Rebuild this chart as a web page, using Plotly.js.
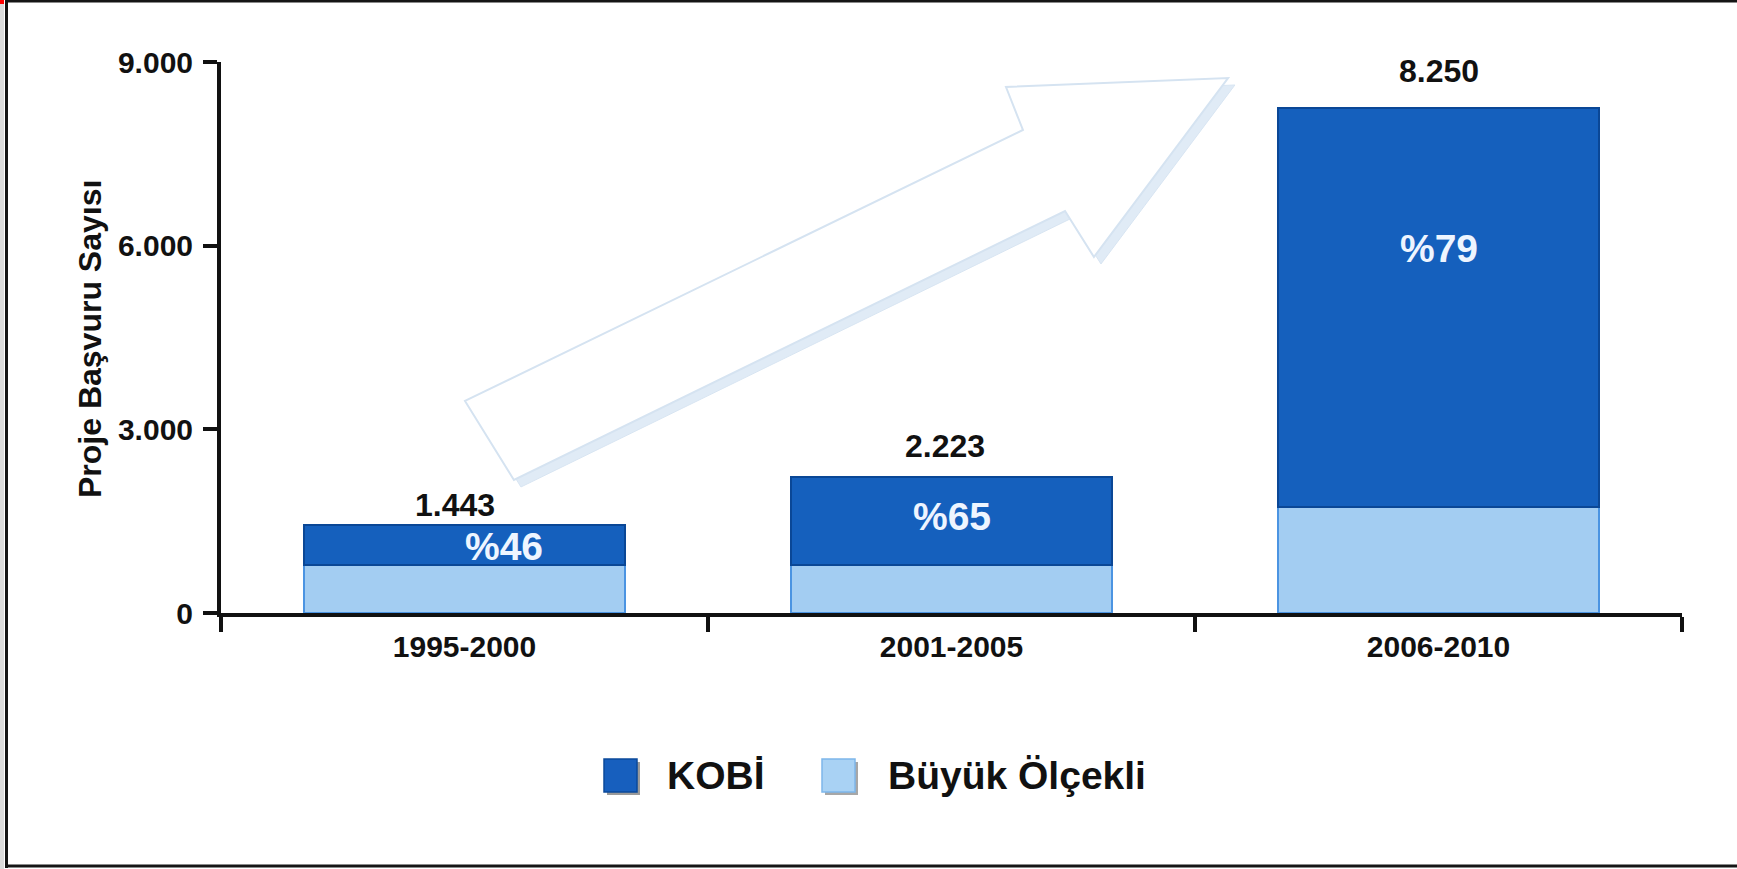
<!DOCTYPE html>
<html>
<head>
<meta charset="utf-8">
<script src="https://cdn.plot.ly/plotly-3.0.1.min.js"></script>
<style>
  html, body { margin: 0; padding: 0; background: #ffffff; }
  #chart { width: 1737px; height: 869px; }
</style>
</head>
<body>
<div id="chart"></div>
<script>
// ---- data ----
const categories = ['1995-2000', '2001-2005', '2006-2010'];
const totals = [1443, 2223, 8250];
const kobiShare = [46, 65, 79];
const kobi = [664, 1445, 6518];
const buyuk = [779, 778, 1732];
const seriesNames = ['KOBİ', 'Büyük Ölçekli'];
const yTickVals = [0, 3000, 6000, 9000];
const yTickText = ['0', '3.000', '6.000', '9.000'];
const yTitle = 'Proje Başvuru Sayısı';

// ---- layout geometry (pixels of the 1737x869 canvas) ----
const W = 1737, H = 869;
const M = { l: 221, r: 55, t: 62, b: 256 };
const PW = W - M.l - M.r, PH = H - M.t - M.b;
const px = x => (x - M.l) / PW;          // pixel x -> paper x
const py = y => (H - M.b - y) / PH;      // pixel y -> paper y

const FONT = '"Liberation Sans", Arial, Helvetica, sans-serif';
const KOBI_COLOR = '#1560bd';
const BUYUK_COLOR = '#a3cdf2';

const traces = [
  {
    type: 'bar', name: seriesNames[1], x: categories, y: buyuk,
    marker: { color: BUYUK_COLOR, line: { color: '#4b94e2', width: 2 } },
    hoverinfo: 'skip', showlegend: false
  },
  {
    type: 'bar', name: seriesNames[0], x: categories, y: kobi,
    marker: { color: KOBI_COLOR, line: { color: '#0a4796', width: 2 } },
    hoverinfo: 'skip', showlegend: false
  }
];

// label offsets (styling only)
const totalShift = [{ x: -10, y: 0 }, { x: -7, y: 11 }, { x: 0, y: 17 }];
const pctShift = [{ x: 39, y: -2 }, { x: 0, y: 5 }, { x: 0, y: 59 }];

const annotations = [];
categories.forEach((c, i) => {
  annotations.push({
    x: c, y: totals[i], xref: 'x', yref: 'y',
    text: totals[i].toLocaleString('de-DE'),
    showarrow: false, yanchor: 'bottom', xanchor: 'center',
    xshift: totalShift[i].x, yshift: totalShift[i].y,
    font: { family: FONT, size: 32, color: '#111111', weight: 'bold' }
  });
  annotations.push({
    x: c, y: buyuk[i] + kobi[i] / 2, xref: 'x', yref: 'y',
    text: '%' + kobiShare[i],
    showarrow: false, yanchor: 'middle', xanchor: 'center',
    xshift: pctShift[i].x, yshift: pctShift[i].y,
    font: { family: FONT, size: 39, color: '#eef5ff', weight: 'bold' }
  });
});

// y axis title
annotations.push({
  x: px(90), y: py(339), xref: 'paper', yref: 'paper',
  text: yTitle, textangle: -90, showarrow: false,
  xanchor: 'center', yanchor: 'middle',
  font: { family: FONT, size: 32, color: '#111111', weight: 'bold' }
});

// custom legend text
annotations.push({
  x: px(665), y: py(776), xref: 'paper', yref: 'paper',
  text: seriesNames[0], showarrow: false, xanchor: 'left', yanchor: 'middle',
  font: { family: FONT, size: 39, color: '#111111', weight: 'bold' }
});
annotations.push({
  x: px(886), y: py(776), xref: 'paper', yref: 'paper',
  text: seriesNames[1], showarrow: false, xanchor: 'left', yanchor: 'middle',
  font: { family: FONT, size: 39, color: '#111111', weight: 'bold' }
});

// decorative arrow (pixel outline -> paper)
const arrowPx = [[465, 401], [1023, 130], [1006, 87], [1228, 78], [1094, 257], [1065, 211], [514, 480]];
function pathFrom(pts, dx, dy) {
  return pts.map((p, k) => (k ? 'L' : 'M') + px(p[0] + dx).toFixed(4) + ',' + py(p[1] + dy).toFixed(4)).join(' ') + ' Z';
}
function rectPx(x0, y0, x1, y1, fill, line, lw, layer) {
  return {
    type: 'rect', xref: 'paper', yref: 'paper',
    x0: px(x0), x1: px(x1), y0: py(y1), y1: py(y0),
    fillcolor: fill, line: { color: line || 'rgba(0,0,0,0)', width: lw || 0 },
    layer: layer || 'above'
  };
}
function linePx(x0, y0, x1, y1, color, w) {
  return {
    type: 'line', xref: 'paper', yref: 'paper',
    x0: px(x0), x1: px(x1), y0: py(y0), y1: py(y1),
    line: { color: color, width: w }, layer: 'above'
  };
}

const shapes = [
  { type: 'path', xref: 'paper', yref: 'paper', path: pathFrom(arrowPx, 7, 7),
    fillcolor: '#e0ebf6', line: { color: '#d8e5f2', width: 1 }, layer: 'below' },
  { type: 'path', xref: 'paper', yref: 'paper', path: pathFrom(arrowPx, 0, 0),
    fillcolor: '#ffffff', line: { color: '#d5e3f1', width: 2 }, layer: 'below' },
  // legend icons
  rectPx(607, 762, 640, 795, '#9a9a9a'),
  rectPx(604, 759, 637, 792, '#175fbe', '#0b4a9a', 1.5),
  rectPx(825, 762, 858, 795, '#a7a7a7'),
  rectPx(822, 759, 855, 792, '#a9d2f4', '#7db7ea', 1.5),
  // frame
  rectPx(0, 0, 4, 869, '#dcdcdc'),
  rectPx(0, 0, 4, 4, '#ff0000'),
  linePx(6, 1, 1737, 1, '#151515', 3),
  linePx(6, 866, 1737, 866, '#151515', 3),
  linePx(6.5, 0, 6.5, 868, '#151515', 3)
];

const layout = {
  width: W, height: H,
  margin: M,
  paper_bgcolor: '#ffffff', plot_bgcolor: '#ffffff',
  separators: ',.',
  barmode: 'stack',
  bargap: 0.34,
  showlegend: false,
  font: { family: FONT, color: '#111111' },
  xaxis: {
    type: 'category',
    showgrid: false, zeroline: false,
    showline: true, linecolor: '#111111', linewidth: 4,
    ticks: 'outside', tickson: 'boundaries', ticklen: 15, tickwidth: 4, tickcolor: '#111111',
    tickfont: { family: FONT, size: 30, color: '#111111', weight: 'bold' },
    ticklabelstandoff: 4,
    fixedrange: true
  },
  yaxis: {
    range: [0, 9000],
    tickvals: yTickVals, ticktext: yTickText,
    showgrid: false, zeroline: false,
    showline: true, linecolor: '#111111', linewidth: 4,
    ticks: 'outside', ticklen: 14, tickwidth: 4, tickcolor: '#111111',
    tickfont: { family: FONT, size: 30, color: '#111111', weight: 'bold' },
    ticklabelstandoff: 4,
    fixedrange: true
  },
  annotations: annotations,
  shapes: shapes
};

Plotly.newPlot('chart', traces, layout, { displayModeBar: false, staticPlot: true });
</script>
</body>
</html>
